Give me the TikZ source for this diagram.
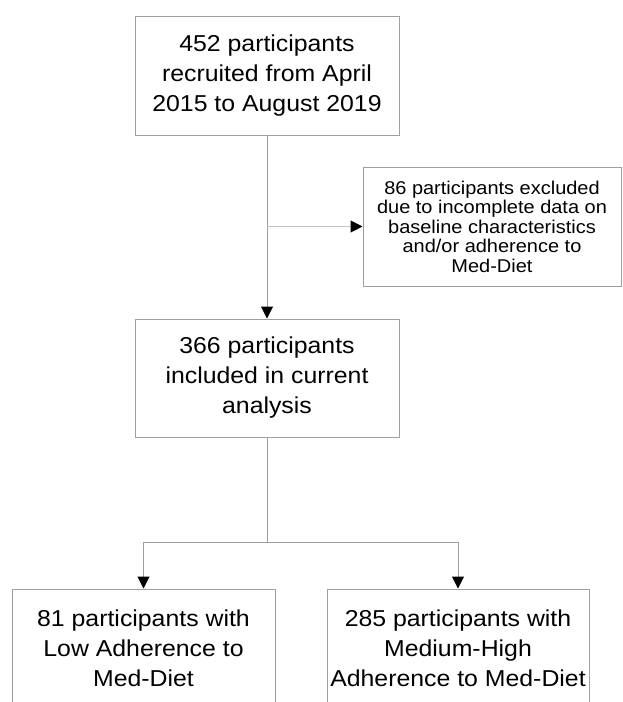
\documentclass[tikz,border=0pt]{standalone}
\usepackage{fontspec}
\setmainfont{Liberation Sans}[FakeStretch=1.08]
\usetikzlibrary{arrows.meta}

\begin{document}
\begin{tikzpicture}[x=1pt, y=-1pt,
		box/.style={rectangle, draw=gray!75, line width=1pt, fill=white, align=center, inner sep=0pt, font=\fontsize{23}{30}\selectfont},
		flow/.style={draw=gray!75, line width=1pt, -{Triangle[length=12pt, width=12pt, color=black]}},
		link/.style={draw=gray!75, line width=1pt}]
	\useasboundingbox (0,0) rectangle (622,702);
	% boxes
	\node[box, minimum width=264pt, minimum height=119pt](recruit) at (267,75.5){452 participants\\recruited from April\\2015 to August 2019};
	\node[box, minimum width=258pt, minimum height=119pt, font=\fontsize{18.5}{19.5}\selectfont](excl) at (492,226.5){86 participants excluded\\due to incomplete data on\\baseline characteristics\\and/or adherence to\\Med-Diet};
	\node[box, minimum width=264pt, minimum height=118pt](incl) at (267,378){366 participants\\included in current\\analysis};
	\node[box, minimum width=263pt, minimum height=119pt](low) at (143.5,648.5){81 participants with\\Low Adherence to\\Med-Diet};
	\node[box, minimum width=262pt, minimum height=119pt](high) at (458,648.5){285 participants with\\Medium-High\\Adherence to Med-Diet};
	% connectors
	\coordinate (split) at (267,226.5);
	\coordinate (fork) at (267,542);
	\draw[flow] (recruit) -- (incl);
	\draw[flow, draw=gray!45] (split) -- (excl);
	\draw[link] (incl) -- (fork);
	\draw[flow] (fork) -| (low);
	\draw[flow] (fork) -| (high);
\end{tikzpicture}
\end{document}
